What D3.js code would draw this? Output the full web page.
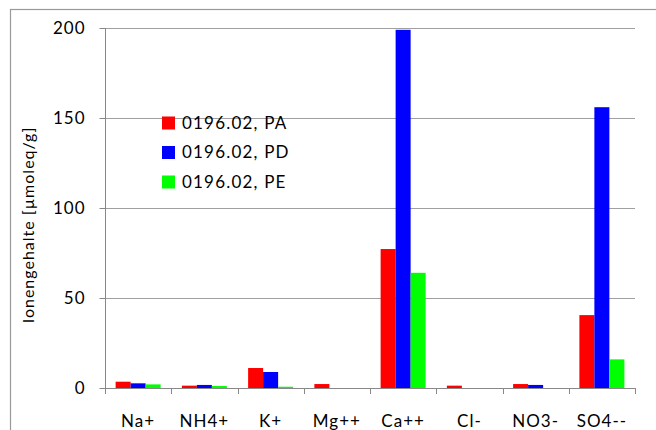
<!DOCTYPE html>
<html><head><meta charset="utf-8">
<script src="https://cdn.jsdelivr.net/npm/d3@7"></script>
<style>body{margin:0;background:#fff;}svg{display:block;font-family:Lato,"Open Sans",sans-serif;}</style>
</head><body>
<svg id="c" width="656" height="430"></svg>
<script>
const categories = ["Na+","NH4+","K+","Mg++","Ca++","Cl-","NO3-","SO4--"];
const seriesNames = ["0196.02, PA","0196.02, PD","0196.02, PE"];
const seriesPA = [3.5,1.3,11.1,2.2,77.2,1.3,2.2,40.5];
const seriesPD = [2.6,1.7,8.9,0,199,0,1.7,156];
const seriesPE = [2.0,1.1,0.7,0,64,0,0,15.9];
const yTicks = [0,50,100,150,200];
const colors = ["#ff0000","#0000ff","#00ff00"];
const series = [seriesPA,seriesPD,seriesPE];

const svg = d3.select("#c");
const L=105,R=635,T=28,B=388;
// outer border
svg.append("rect").attr("x",10.5).attr("y",9.5).attr("width",700).attr("height",500)
  .attr("fill","none").attr("stroke","#999").attr("stroke-width",1.2);

const x = d3.scaleBand().domain(categories).range([L,R]).paddingInner(0).paddingOuter(0);
const y = d3.scaleLinear().domain([0,200]).range([B,T]);
const xs = d3.scaleBand().domain([0,1,2]).range([0,45]).align(0).paddingInner(0);
const off = (x.bandwidth()-45)/2;

// gridlines
svg.append("g").selectAll("line").data(yTicks.filter(d=>d>0)).join("line")
  .attr("x1",L).attr("x2",R).attr("y1",d=>Math.round(y(d))+0.5).attr("y2",d=>Math.round(y(d))+0.5)
  .attr("stroke","#a0a0a0").attr("stroke-width",1);

// bars
series.forEach((s,i)=>{
  svg.append("g").selectAll("rect").data(s).join("rect")
    .attr("x",(d,j)=>x(categories[j])+off+xs(i))
    .attr("width",xs.bandwidth())
    .attr("y",d=>y(d)).attr("height",d=>B-y(d))
    .attr("fill",colors[i]);
});

// y axis
const ya = svg.append("g").attr("transform",`translate(${L+0.5},0)`)
  .call(d3.axisLeft(y).tickValues(yTicks).tickSize(6).tickPadding(14));
ya.select(".domain").remove();
ya.selectAll(".tick line").attr("stroke","#888");
ya.selectAll("text").attr("font-size",17).attr("letter-spacing","1px").attr("fill","#000").attr("font-family","Lato");
svg.append("line").attr("x1",L+0.5).attr("x2",L+0.5).attr("y1",T).attr("y2",B).attr("stroke","#888");

// x axis
const xa = svg.append("g").attr("transform",`translate(0,${B+0.5})`)
  .call(d3.axisBottom(x).tickSize(0).tickPadding(26));
xa.select(".domain").attr("stroke","#888").attr("d",`M${L},0H${R}`);
xa.selectAll("text").attr("font-size",17).attr("letter-spacing","1px").attr("fill","#000").attr("font-family","Lato");
svg.append("g").selectAll("line").data(d3.range(categories.length+1)).join("line")
  .attr("x1",d=>Math.round(L+d*x.bandwidth())+0.5).attr("x2",d=>Math.round(L+d*x.bandwidth())+0.5)
  .attr("y1",B).attr("y2",B+6).attr("stroke","#888");

// y label
svg.append("text").attr("transform","translate(34,225) rotate(-90)")
  .attr("text-anchor","middle").attr("font-size",16).attr("letter-spacing","1px").text("Ionengehalte [µmoleq/g]");

// legend
const lg = svg.append("g");
seriesNames.forEach((n,i)=>{
  const cy = 123 + i*29.5;
  lg.append("rect").attr("x",162).attr("y",cy-6.5).attr("width",13).attr("height",13).attr("fill",colors[i]);
  lg.append("text").attr("x",182).attr("y",cy).attr("dy","0.35em").attr("font-size",17).attr("letter-spacing","1.2px").text(n);
});
</script>
</body></html>
